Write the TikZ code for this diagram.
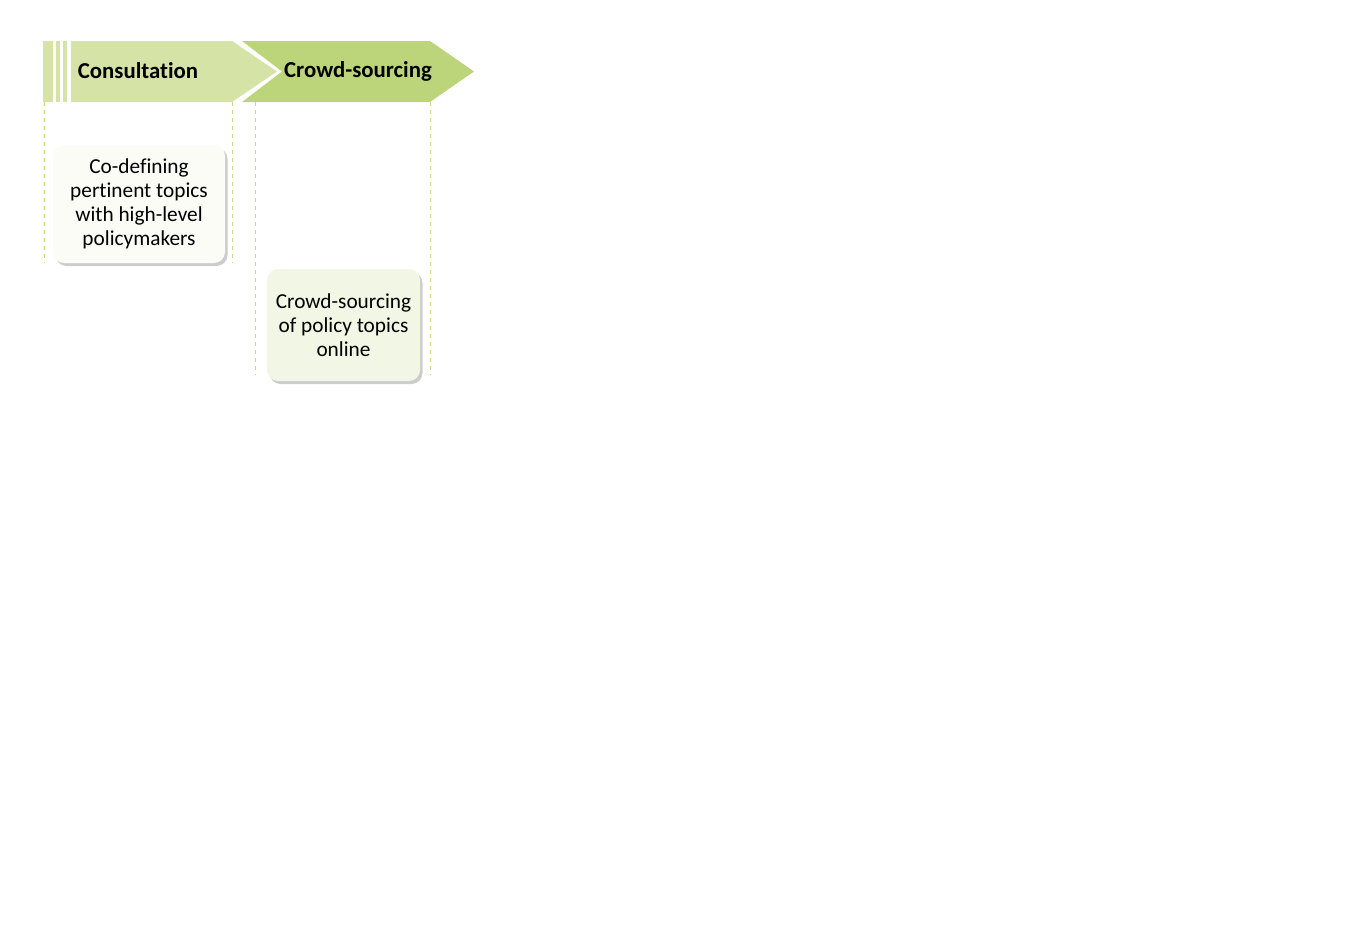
\documentclass[tikz,border=0pt]{standalone}
\usepackage{fontspec}
\setmainfont[Ligatures=NoCommon]{Carlito}
\usetikzlibrary{shadows}
\definecolor{chevlight}{HTML}{D5E3A6}
\definecolor{chevdark}{HTML}{BDD57A}
\definecolor{guide}{HTML}{C6DA88}
\definecolor{boxlight}{HTML}{FBFCF6}
\definecolor{boxdark}{HTML}{F2F6E4}
\tikzset{
  stagebox/.style={rounded corners=11pt,align=center,inner sep=0pt,
    font=\fontsize{21.3}{24}\selectfont,
    drop shadow={shadow xshift=2.5pt,shadow yshift=-3pt,opacity=0.4}},
  stagehead/.style={font=\bfseries\fontsize{22.8}{24}\selectfont},
  guideline/.style={guide,dash pattern=on 4pt off 4pt,line width=0.9pt}
}
\begin{document}
\begin{tikzpicture}[x=1pt,y=-1pt,line join=round]
\useasboundingbox (0,0) rectangle (1347,937);
% stage arrows
\fill[chevlight] (43,41) rectangle (53,102);
\fill[chevlight] (56,41) rectangle (59.5,102);
\fill[chevlight] (63,41) rectangle (67,102);
\fill[chevlight] (71,41) -- (232,41) -- (277,71.5) -- (232,102) -- (71,102) -- cycle;
\fill[chevdark] (242,41) -- (430,41) -- (474,71.5) -- (430,102) -- (242,102) -- (282,71.5) -- cycle;
\node[stagehead] (consult) at (138,71) {Consultation};
\node[stagehead] (crowd) at (358,71) {Crowd-sourcing};
% guides
\draw[guideline] (44,102) -- (44,263);
\draw[guideline] (232,102) -- (232,263);
\draw[guideline] (255,102) -- (255,375);
\draw[guideline] (430,102) -- (430,375);
% activities
\node[stagebox,fill=boxlight,minimum width=172pt,minimum height=118pt] (codefine) at (139,204)
  {Co-defining\\pertinent topics\\with high-level\\policymakers};
\node[stagebox,fill=boxdark,minimum width=153pt,minimum height=112pt] (online) at (343.5,325)
  {Crowd-sourcing\\of policy topics\\online};
\end{tikzpicture}
\end{document}
